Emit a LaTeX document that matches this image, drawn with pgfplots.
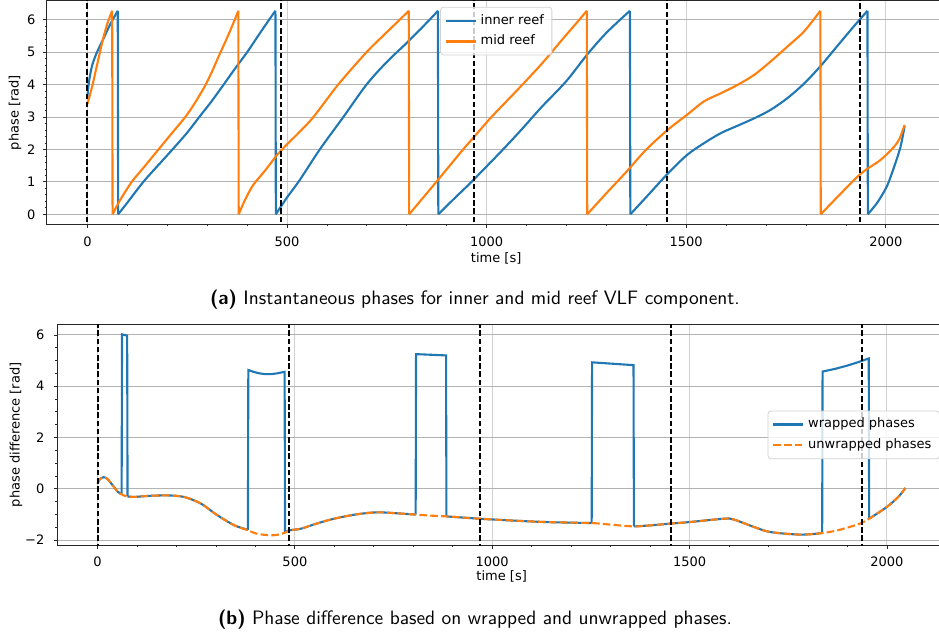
\documentclass[border=0pt]{standalone}
\usepackage{pgfplots}
\pgfplotsset{compat=1.18}
\usepackage{fontspec}
\setmainfont{DejaVu Sans}
\definecolor{mplblue}{HTML}{1F77B4}
\definecolor{mplorange}{HTML}{FF7F0E}
\newcommand{\tfont}{\fontsize{6.5}{7.8}\selectfont}
\pgfplotsset{
  mystyle/.style={
    scale only axis,
    tick pos=left,
    tick align=outside,
    major tick length=1.75pt,
    minor tick length=1pt,
    every tick/.style={black!85, line width=0.4pt},
    axis line style={black!85, line width=0.5pt},
    grid=major,
    x grid style={gray!35, line width=0.5pt},
    y grid style={gray!60, line width=0.5pt},
    tick label style={font=\tfont},
    label style={font=\tfont},
    xticklabel style={anchor=north, inner sep=0pt, yshift=-4pt},
    legend cell align=left,
    legend style={font=\tfont, draw=gray!35, rounded corners=1.5pt, fill=white, fill opacity=0.8, text opacity=1, draw opacity=1, inner xsep=2pt, inner ysep=1.5pt, row sep=0pt},
    legend image code/.code={\draw[##1] (0pt,0pt) -- (15pt,0pt);},
  },
  bl/.style={mplblue, line width=1.05pt},
  bls/.style={mplblue, line width=1.05pt, smooth, forget plot},
  blf/.style={mplblue, line width=1.05pt, forget plot},
  ol/.style={mplorange, line width=1.05pt},
  ols/.style={mplorange, line width=1.05pt, smooth, forget plot},
  olf/.style={mplorange, line width=1.05pt, forget plot},
  vline/.style={black, line width=1pt, dash pattern=on 2.8pt off 1.3pt, forget plot},
}
\begin{document}
\begin{tikzpicture}
\useasboundingbox (0,0) rectangle (469.5pt,320.5pt);
% ---------------- (a) ----------------
\begin{axis}[mystyle,
  at={(23.35pt,208.25pt)}, anchor=south west,
  width=449.5pt, height=112pt,
  xmin=-102, xmax=2150, ymin=-0.314, ymax=6.597,
  xtick={0,500,1000,1500,2000}, xticklabels={0,500,1000,1500,2000},
  ytick={0,1,2,3,4,5,6}, yticklabels={0,1,2,3,4,5,6},
  minor x tick num=4, minor y tick num=4,
  yticklabel style={anchor=east, inner sep=0pt, xshift=-3.7pt},
  xlabel={time [s]}, ylabel={phase [rad]},
  xlabel style={at={(axis description cs:0.5,-0.1496)}, anchor=center},
  ylabel style={at={(axis description cs:-0.0353,0.5)}, anchor=center},
  legend style={at={(0.5,0.972)}, anchor=north},
]
% inner reef (wrapped phase), segment by segment
\addplot[bl, smooth] coordinates {(0,3.62) (4,4.1) (12,4.6) (24,5.0) (41,5.44) (57,5.86) (76,6.28)};
\addlegendentry{inner reef}
\addplot[blf] coordinates {(76,6.28) (77,0)};
\addplot[bls] coordinates {(77,0) (100,0.36) (140,1.0) (180,1.55) (213,2.0) (250,2.52) (280,3.0) (310,3.47) (340,3.98) (370,4.5) (400,5.0) (430,5.55) (455,6.0) (471,6.28)};
\addplot[blf] coordinates {(471,6.28) (472,0)};
\addplot[bls] coordinates {(472,0) (500,0.52) (532,1.06) (582,2.0) (641,3.0) (699,4.0) (750,4.7) (805,5.35) (857,6.0) (878,6.28)};
\addplot[blf] coordinates {(878,6.28) (879,0)};
\addplot[bls] coordinates {(879,0) (920,0.5) (962,1.0) (1041,2.0) (1090,2.65) (1137,3.3) (1199,4.1) (1252,4.93) (1300,5.6) (1359,6.28)};
\addplot[blf] coordinates {(1359,6.28) (1360,0)};
\addplot[bls] coordinates {(1360,0) (1405,0.6) (1453,1.245) (1502,1.83) (1544,2.19) (1586,2.5) (1628,2.73) (1670,2.96) (1711,3.22) (1753,3.58) (1795,4.03) (1837,4.58) (1879,5.2) (1920,5.8) (1954,6.28)};
\addplot[blf] coordinates {(1954,6.28) (1955,0)};
\addplot[bls] coordinates {(1955,0) (1975,0.3) (1987,0.52) (2004,0.9) (2021,1.47) (2037,2.09) (2047,2.72)};
% mid reef (wrapped phase)
\addplot[ol, smooth] coordinates {(0,3.4) (12,3.95) (24,4.6) (37,5.3) (49,5.85) (62,6.28)};
\addlegendentry{mid reef}
\addplot[olf] coordinates {(62,6.28) (63,0)};
\addplot[ols] coordinates {(63,0) (80,0.4) (111,1.0) (140,1.43) (178,2.0) (210,2.48) (245,3.0) (270,3.45) (294,3.95) (312,4.4) (328,4.85) (350,5.45) (369,6.0) (378,6.28)};
\addplot[olf] coordinates {(378,6.28) (379,0)};
\addplot[ols] coordinates {(379,0) (395,0.45) (415,0.9) (445,1.35) (480,1.9) (532,2.55) (566,3.0) (628,4.0) (699,5.0) (740,5.5) (782,6.0) (805,6.28)};
\addplot[olf] coordinates {(805,6.28) (806,0)};
\addplot[ols] coordinates {(806,0) (840,0.5) (874,1.0) (941,2.0) (966,2.35) (1012,3.0) (1082,3.9) (1137,4.63) (1190,5.4) (1232,6.0) (1251,6.28)};
\addplot[olf] coordinates {(1251,6.28) (1252,0)};
\addplot[ols] coordinates {(1252,0) (1300,0.65) (1335,1.11) (1358,1.42) (1400,2.0) (1453,2.6) (1502,3.07) (1544,3.48) (1586,3.73) (1628,3.99) (1670,4.3) (1711,4.71) (1753,5.17) (1795,5.64) (1836,6.28)};
\addplot[olf] coordinates {(1836,6.28) (1837,0)};
\addplot[ols] coordinates {(1837,0) (1880,0.55) (1937,1.25) (1987,1.68) (2021,2.09) (2035,2.35) (2047,2.76)};
\addplot[vline] coordinates {(0,-1) (0,8)};
\addplot[vline] coordinates {(484,-1) (484,8)};
\addplot[vline] coordinates {(968,-1) (968,8)};
\addplot[vline] coordinates {(1452,-1) (1452,8)};
\addplot[vline] coordinates {(1936,-1) (1936,8)};
\end{axis}
\node[font=\sffamily\fontsize{9.7}{11.6}\selectfont] at (237.5pt,170.5pt) {\textbf{(a)} Instantaneous phases for inner and mid reef VLF component.};
% ---------------- (b) ----------------
\begin{axis}[mystyle,
  at={(28.65pt,47.8pt)}, anchor=south west,
  width=444.4pt, height=110.5pt,
  xmin=-102, xmax=2150, ymin=-2.21, ymax=6.41,
  xtick={0,500,1000,1500,2000}, xticklabels={0,500,1000,1500,2000},
  ytick={-2,0,2,4,6}, yticklabels={−2,0,2,4,6},
  minor x tick num=4, minor y tick num=3,
  yticklabel style={anchor=east, inner sep=0pt, xshift=-4.5pt},
  xlabel={time [s]}, ylabel={phase difference [rad]},
  xlabel style={at={(axis description cs:0.5,-0.1412)}, anchor=center},
  ylabel style={at={(axis description cs:-0.0465,0.5)}, anchor=center},
  legend style={at={(0.993,0.5)}, anchor=east},
]
% wrapped phase difference
\addplot[bl, smooth] coordinates {(0,0.2) (5,0.36) (15,0.45) (25,0.38) (40,0.1) (50,-0.1) (61,-0.22)};
\addlegendentry{wrapped phases}
\addplot[blf] coordinates {(61,-0.22) (62,6.02) (75,5.97) (76,-0.3)};
\addplot[bls] coordinates {(76,-0.3) (92,-0.32) (130,-0.28) (177,-0.26) (219,-0.32) (262,-0.58) (304,-1.04) (347,-1.43) (381,-1.6)};
\addplot[blf] coordinates {(381,-1.6) (382,4.63) (395,4.56) (410,4.5) (424,4.47) (440,4.47) (455,4.5) (474,4.56) (475,-1.69)};
\addplot[bls] coordinates {(475,-1.69) (487,-1.62) (515,-1.56) (555,-1.36) (599,-1.17) (656,-1.0) (708,-0.92) (760,-0.96) (806,-1.01)};
\addplot[blf] coordinates {(806,-1.01) (807,5.25) (883,5.2) (884,-1.08)};
\addplot[bls] coordinates {(884,-1.08) (969,-1.17) (1050,-1.24) (1137,-1.3) (1252,-1.34)};
\addplot[blf] coordinates {(1252,-1.34) (1253,4.93) (1358,4.82) (1359,-1.47)};
\addplot[bls] coordinates {(1359,-1.47) (1400,-1.43) (1452,-1.36) (1500,-1.3) (1587,-1.17) (1612,-1.2) (1663,-1.49) (1705,-1.69) (1781,-1.79) (1836,-1.73)};
\addplot[blf] coordinates {(1836,-1.73) (1837,4.57) (1870,4.68) (1899,4.8) (1930,4.95) (1954,5.08) (1955,-1.17)};
\addplot[bls] coordinates {(1955,-1.17) (2000,-0.71) (2030,-0.3) (2047,0.03)};
% unwrapped phase difference
\addplot[mplorange, line width=1.05pt, dash pattern=on 3.8pt off 1.6pt, smooth] table {
x y
0 0.2
5 0.36
15 0.45
25 0.38
40 0.1
50 -0.1
61 -0.22
68 -0.27
76 -0.3
92 -0.32
130 -0.28
177 -0.26
219 -0.32
262 -0.58
304 -1.04
347 -1.43
381 -1.62
400 -1.74
424 -1.8
450 -1.81
474 -1.72
487 -1.62
515 -1.56
555 -1.36
599 -1.17
656 -1.0
708 -0.92
760 -0.96
806 -1.01
845 -1.05
884 -1.08
969 -1.17
1050 -1.24
1137 -1.3
1252 -1.34
1300 -1.4
1359 -1.47
1400 -1.43
1452 -1.36
1500 -1.3
1587 -1.17
1612 -1.2
1663 -1.49
1705 -1.69
1781 -1.79
1836 -1.73
1870 -1.64
1899 -1.52
1932 -1.36
1955 -1.17
2000 -0.71
2030 -0.3
2047 0.03
};
\addlegendentry{unwrapped phases}
\addplot[vline] coordinates {(0,-3) (0,8)};
\addplot[vline] coordinates {(484,-3) (484,8)};
\addplot[vline] coordinates {(968,-3) (968,8)};
\addplot[vline] coordinates {(1452,-3) (1452,8)};
\addplot[vline] coordinates {(1936,-3) (1936,8)};
\end{axis}
\node[font=\sffamily\fontsize{9.7}{11.6}\selectfont] at (237.5pt,10.5pt) {\textbf{(b)} Phase difference based on wrapped and unwrapped phases.};
\end{tikzpicture}
\end{document}
